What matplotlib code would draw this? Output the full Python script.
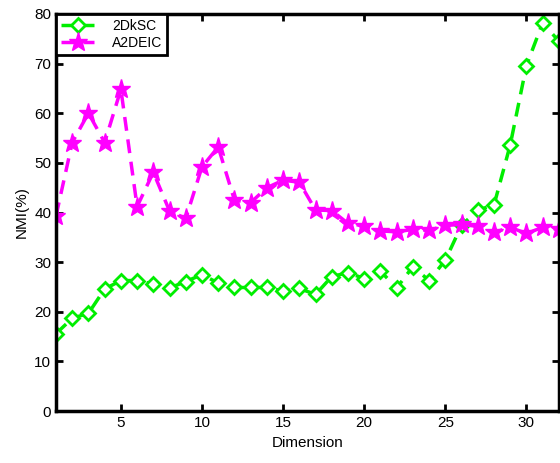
import matplotlib
matplotlib.use('Agg')
import matplotlib.pyplot as plt
import numpy as np

plt.rcParams['font.family'] = ['Liberation Sans', 'DejaVu Sans']

dims = np.arange(1, 33)
nmi_2dksc = [15.6, 18.7, 19.7, 24.6, 26.3, 26.3, 25.6, 24.8, 26.1, 27.5,
             25.8, 24.9, 24.9, 24.9, 24.2, 24.7, 23.5, 27.1, 27.9, 26.7,
             28.2, 24.8, 29.1, 26.3, 30.4, 37.4, 40.5, 41.5, 53.6, 69.6,
             78.2, 74.5]
nmi_a2deic = [39.3, 54.1, 60.0, 54.1, 64.8, 41.2, 48.1, 40.3, 38.8, 49.2,
              53.2, 42.5, 42.0, 45.0, 46.5, 46.1, 40.5, 40.4, 37.8, 37.3,
              36.3, 36.1, 36.6, 36.4, 37.4, 37.6, 37.2, 36.0, 37.0, 35.8,
              37.0, 36.6]

fig = plt.figure(figsize=(5.6, 4.63), dpi=100)
ax = fig.add_axes([0.1, 0.112, 0.898, 0.858])

ax.plot(dims, nmi_2dksc, '--', color='#00ee00', lw=2.5, marker='D',
        ms=7.5, mfc='white', mec='#00ee00', mew=2, dashes=(4, 2.5),
        label='2DkSC')
ax.plot(dims, nmi_a2deic, '--', color='#ff00ff', lw=2.5, marker='*',
        ms=14, mfc='#ff00ff', mec='#ff00ff', dashes=(4, 2.5),
        label='A2DEIC')

ax.set_xlim(1, 32)
ax.set_ylim(0, 80)
ax.set_xticks([5, 10, 15, 20, 25, 30])
ax.set_yticks(np.arange(0, 81, 10))
ax.tick_params(direction='in', top=True, right=True, width=2, length=5,
               labelsize=11)
for s in ax.spines.values():
    s.set_linewidth(2.5)
ax.set_xlabel('Dimension', fontsize=11)
ax.set_ylabel('NMI(%)', fontsize=11)

leg = ax.legend(loc='upper left', fontsize=10, fancybox=False,
                framealpha=1, borderaxespad=0, handlelength=2.4,
                handletextpad=1.3, borderpad=0.35, labelspacing=0.25)
leg.get_frame().set_edgecolor('black')
leg.get_frame().set_linewidth(2)

fig.savefig('out.png', dpi=100)
